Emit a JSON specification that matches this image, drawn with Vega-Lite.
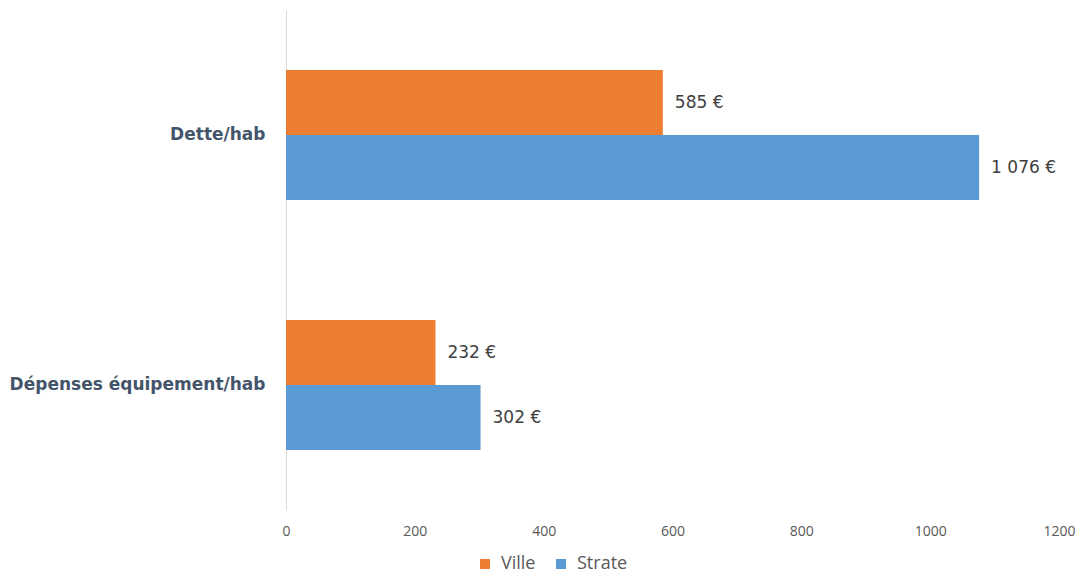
{
  "$schema": "https://vega.github.io/schema/vega-lite/v6.json",
  "width": 773,
  "height": 500,
  "autosize": {"type": "none"},
  "padding": {"left": 286, "top": 10, "right": 19, "bottom": 64},
  "background": "white",
  "config": {"view": {"stroke": null}, "font": "Open Sans"},
  "data": {
    "values": [
      {"cat": "Dette/hab", "serie": "Ville", "val": 585, "label": "585 €"},
      {"cat": "Dette/hab", "serie": "Strate", "val": 1076, "label": "1 076 €"},
      {"cat": "Dépenses équipement/hab", "serie": "Ville", "val": 232, "label": "232 €"},
      {"cat": "Dépenses équipement/hab", "serie": "Strate", "val": 302, "label": "302 €"}
    ]
  },
  "encoding": {
    "y": {
      "field": "cat", "type": "nominal", "sort": ["Dette/hab", "Dépenses équipement/hab"],
      "scale": {"paddingInner": 0.48, "paddingOuter": 0.24},
      "axis": {"title": null, "ticks": false, "domain": true, "domainColor": "#d9d9d9", "labelFontWeight": "bold", "labelFontSize": 17, "labelColor": "#44546a", "labelPadding": 21, "labelFont": "DejaVu Sans", "labelLimit": 400}
    },
    "yOffset": {"field": "serie", "type": "nominal", "sort": ["Ville", "Strate"], "scale": {"paddingInner": 0, "paddingOuter": 0}},
    "x": {
      "field": "val", "type": "quantitative",
      "scale": {"domain": [0, 1200], "nice": false},
      "axis": {"title": null, "values": [0, 200, 400, 600, 800, 1000, 1200], "format": "d", "grid": false, "domain": false, "ticks": false, "labelFontSize": 14, "labelColor": "#595959", "labelPadding": 14, "labelFlush": false}
    }
  },
  "layer": [
    {
      "mark": {"type": "bar"},
      "encoding": {
        "color": {
          "field": "serie", "type": "nominal", "sort": ["Ville", "Strate"],
          "scale": {"domain": ["Ville", "Strate"], "range": ["#ed7d31", "#5b9bd5"]},
          "legend": {"title": null, "orient": "none", "direction": "horizontal", "legendX": 190, "legendY": 545, "symbolType": "square", "symbolSize": 100, "symbolStrokeWidth": 0, "labelFontSize": 18, "labelColor": "#595959", "columnPadding": 16, "labelOffset": 7, "padding": 0}
        }
      }
    },
    {
      "mark": {"type": "text", "align": "left", "baseline": "middle", "dx": 12, "fontSize": 17, "font": "DejaVu Sans", "color": "#404040"},
      "encoding": {"text": {"field": "label"}}
    }
  ]
}
